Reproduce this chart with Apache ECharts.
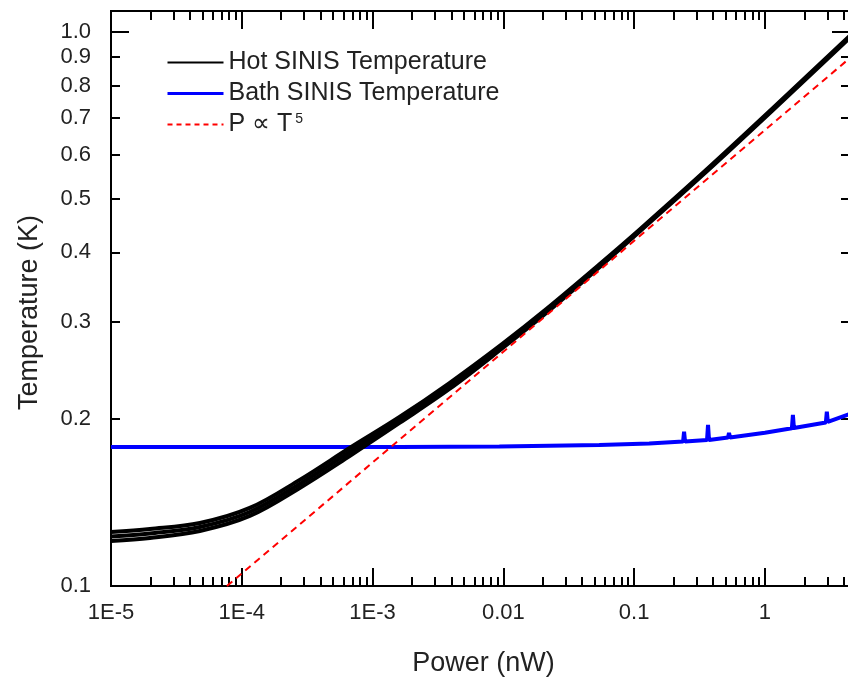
<!DOCTYPE html>
<html>
<head>
<meta charset="utf-8">
<title>SINIS temperature vs power</title>
<script src="https://cdn.jsdelivr.net/npm/echarts@6.0.0/dist/echarts.min.js"></script>
<style>
    html, body { margin: 0; padding: 0; background: #fff; }
    #chart { width: 848px; height: 680px; }
</style>
</head>
<body>
<div id="chart"></div>
<script>
// hot SINIS: several sweeps drawn on top of each other (upper / middle / lower edge of the band)
const hotPower = [1e-5, 1.985e-5, 4.78e-5, 1.151e-4, 2.772e-4, 6.675e-4, 1.607e-3, 3.87e-3, 9.83e-3, 0.02129, 0.05405, 0.1092, 0.3544, 1.131, 4.47];
const hotTempUpper = [0.1251, 0.1267, 0.1299, 0.1383, 0.1554, 0.1774, 0.2018, 0.2324, 0.2735, 0.3160, 0.3802, 0.4389, 0.5629, 0.7254, 0.984];
const hotTempMid = [0.1228, 0.1244, 0.1278, 0.1360, 0.1528, 0.1745, 0.1993, 0.2295, 0.2710, 0.3134, 0.3778, 0.4371, 0.5606, 0.7225, 0.980];
const hotTempLower = [0.1206, 0.1221, 0.1257, 0.1338, 0.1503, 0.1716, 0.1969, 0.2267, 0.2685, 0.3108, 0.3755, 0.4352, 0.5583, 0.7194, 0.976];

// bath SINIS, with the little spikes near the right end
const bathPower = [1e-5, 1.151e-4, 1.607e-3, 9.32e-3, 0.05405, 0.1302, 0.2366, 0.2408, 0.2450, 0.3607, 0.3671, 0.3736, 0.5220, 0.5313, 0.5406, 0.5598, 1.0, 1.607, 1.636, 1.665, 2.922, 2.973, 3.026, 4.47];
const bathTemp = [0.1782, 0.1782, 0.1782, 0.1785, 0.1797, 0.1807, 0.1822, 0.1899, 0.1822, 0.1834, 0.1952, 0.1834, 0.1853, 0.1888, 0.1853, 0.1857, 0.1890, 0.1926, 0.2035, 0.1928, 0.1973, 0.2063, 0.1977, 0.2045];

// P ~ T^5 guide line
const fitPower = [7.7e-5, 4.47];
const fitTemp = [0.1, 0.897];

const xMajorTicks = [1e-5, 1e-4, 1e-3, 0.01, 0.1, 1];
const xTickLabels = ['1E-5', '1E-4', '1E-3', '0.01', '0.1', '1'];
const xMinorTicks = [
    2e-5, 3e-5, 4e-5, 5e-5, 6e-5, 7e-5, 8e-5, 9e-5,
    2e-4, 3e-4, 4e-4, 5e-4, 6e-4, 7e-4, 8e-4, 9e-4,
    2e-3, 3e-3, 4e-3, 5e-3, 6e-3, 7e-3, 8e-3, 9e-3,
    0.02, 0.03, 0.04, 0.05, 0.06, 0.07, 0.08, 0.09,
    0.2, 0.3, 0.4, 0.5, 0.6, 0.7, 0.8, 0.9,
    2, 3, 4
];
const yTicks = [0.1, 0.2, 0.3, 0.4, 0.5, 0.6, 0.7, 0.8, 0.9, 1.0];
const yTickLabels = ['0.1', '0.2', '0.3', '0.4', '0.5', '0.6', '0.7', '0.8', '0.9', '1.0'];
const yShortTicks = [0.2, 0.3, 0.4, 0.5, 0.6, 0.7, 0.8, 0.9];
const yLongTicks = [0.1, 1.0];

const X_MIN = 1e-5, X_MAX = 4.47;
const Y_MIN = 0.1, Y_MAX = 1.09;
const FONT = '"Liberation Sans", Arial, sans-serif';

const pairs = (xs, ys) => xs.map((x, i) => [x, ys[i]]);

const nearestLabel = (v, ticks, labels) => {
    let best = 0;
    ticks.forEach((t, i) => {
        if (Math.abs(Math.log10(t) - Math.log10(v)) < Math.abs(Math.log10(ticks[best]) - Math.log10(v))) best = i;
    });
    return labels[best];
};

const axisLine = {show: true, onZero: false, lineStyle: {color: '#000', width: 2}};

function makeX(position, ticks, len, withLabels) {
    const ax = {
        type: 'log', logBase: 10, min: X_MIN, max: X_MAX, position: position, gridIndex: 0,
        axisLine: axisLine,
        axisTick: {show: true, inside: true, length: len, customValues: ticks, lineStyle: {color: '#000', width: 2}},
        axisLabel: {show: false},
        splitLine: {show: false},
        minorTick: {show: false}
    };
    if (withLabels) {
        ax.axisLabel = {
            show: true, customValues: xMajorTicks, margin: 16,
            color: '#222', fontFamily: FONT, fontSize: 22,
            formatter: v => nearestLabel(v, xMajorTicks, xTickLabels)
        };
        ax.name = 'Power (nW)';
        ax.nameLocation = 'middle';
        ax.nameGap = 64;
        ax.nameTextStyle = {color: '#222', fontFamily: FONT, fontSize: 27, padding: [0, 0, 0, 6]};
    }
    return ax;
}

function makeY(position, ticks, len, withLabels) {
    const ax = {
        type: 'log', logBase: 10, min: Y_MIN, max: Y_MAX, position: position, gridIndex: 0,
        axisLine: axisLine,
        axisTick: {show: true, inside: true, length: len, customValues: ticks, lineStyle: {color: '#000', width: 2}},
        axisLabel: {show: false},
        splitLine: {show: false},
        minorTick: {show: false}
    };
    if (withLabels) {
        ax.axisLabel = {
            show: true, customValues: yTicks, margin: 20,
            color: '#222', fontFamily: FONT, fontSize: 22,
            formatter: v => nearestLabel(v, yTicks, yTickLabels)
        };
        ax.name = 'Temperature (K)';
        ax.nameLocation = 'middle';
        ax.nameGap = 68;
        // shift the rotated title down a little
        ax.nameTextStyle = {color: '#222', fontFamily: FONT, fontSize: 27, padding: [0, 28, 0, 0]};
    }
    return ax;
}

const hotLine = (data) => ({
    name: 'Hot SINIS Temperature', type: 'line', data: data,
    symbol: 'none', smooth: 0.35, z: 3,
    lineStyle: {color: '#000', width: 4}, itemStyle: {color: '#000'}
});

const option = {
    animation: false,
    backgroundColor: '#fff',
    grid: {left: 111, top: 11, width: 739, height: 575, containLabel: false, outerBoundsMode: 'none'},
    legend: {
        orient: 'vertical', left: 161, top: 45, itemGap: 6,
        itemWidth: 56, itemHeight: 14,
        itemStyle: {opacity: 0},
        textStyle: {color: '#222', fontFamily: FONT, fontSize: 25,
            rich: {sup: {fontSize: 14, fontFamily: FONT, color: '#222', verticalAlign: 'top', padding: [0, 0, 0, 3]}}},
        formatter: name => name === 'P \u221d T5' ? 'P \u221d T{sup|5}' : name,
        data: [
            {name: 'Hot SINIS Temperature', lineStyle: {width: 2}, itemStyle: {opacity: 0}},
            {name: 'Bath SINIS Temperature', lineStyle: {width: 3}, itemStyle: {opacity: 0}},
            {name: 'P \u221d T5', lineStyle: {width: 2, type: [5, 4]}, itemStyle: {opacity: 0}}
        ]
    },
    xAxis: [
        makeX('bottom', xMajorTicks, 18, true),
        makeX('bottom', xMinorTicks, 9, false),
        makeX('top', xMajorTicks, 18, false),
        makeX('top', xMinorTicks, 9, false)
    ],
    yAxis: [
        makeY('left', yShortTicks, 9, true),
        makeY('left', yLongTicks, 18, false),
        makeY('right', yShortTicks, 9, false),
        makeY('right', yLongTicks, 18, false)
    ],
    series: [
        {
            name: 'Bath SINIS Temperature', type: 'line', data: pairs(bathPower, bathTemp),
            symbol: 'none', z: 2,
            lineStyle: {color: '#0000ff', width: 4}, itemStyle: {color: '#0000ff'}
        },
        hotLine(pairs(hotPower, hotTempUpper)),
        hotLine(pairs(hotPower, hotTempMid)),
        hotLine(pairs(hotPower, hotTempLower)),
        {
            name: 'P \u221d T5', type: 'line', data: pairs(fitPower, fitTemp),
            symbol: 'none', z: 4,
            lineStyle: {color: '#ff0000', width: 2, type: [7, 5]}, itemStyle: {color: '#ff0000'}
        }
    ]
};

const chart = echarts.init(document.getElementById('chart'));
chart.setOption(option);
</script>
</body>
</html>
